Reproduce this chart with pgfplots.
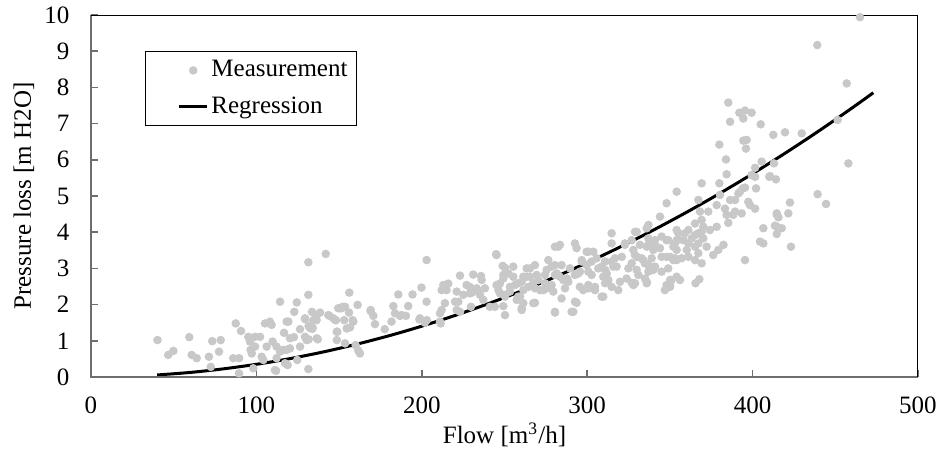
\documentclass[border=0pt]{standalone}
\usepackage{fontspec}
\setmainfont{Liberation Serif}
\usepackage{pgfplots}
\pgfplotsset{compat=1.18}
\definecolor{ptgrey}{RGB}{200,200,200}
\definecolor{axgrey}{RGB}{110,110,110}

\pgfplotstableread{
x y
40.2 1.02
49.8 0.72
46.7 0.61
59.4 1.10
60.9 0.61
63.9 0.52
73.3 0.99
78.4 1.02
71.3 0.56
77.4 0.70
72.4 0.28
87.5 1.48
90.7 1.27
86.0 0.52
89.6 0.52
89.5 0.10
95.1 1.11
99.2 1.11
102.2 1.11
96.1 0.98
99.2 0.84
97.2 0.65
96.5 0.75
103.2 0.56
105.2 1.48
108.2 1.53
109.2 1.44
106.2 0.84
109.8 0.98
112.2 0.84
114.3 2.08
118.3 1.53
116.7 1.22
98.1 0.24
104.2 0.47
112.2 0.52
111.2 0.19
114.3 0.70
118.3 0.75
117.3 0.38
141.9 3.40
131.4 3.17
131.4 2.27
124.4 2.06
122.9 1.80
133.6 1.80
138.5 1.78
144.1 1.69
147.9 1.57
149.5 1.90
136.4 1.57
129.4 1.60
119.3 1.53
126.4 1.32
131.6 1.41
133.8 1.33
131.6 1.04
137.1 1.04
126.4 0.84
120.3 0.79
116.3 0.75
118.9 0.33
131.4 0.22
124.7 0.47
148.6 1.25
148.6 1.02
111.9 0.17
120.3 1.07
122.7 1.10
136.4 1.69
134.0 1.36
143.5 1.71
134.4 1.57
129.4 1.11
136.5 1.07
130.4 1.02
132.4 1.35
129.4 1.62
156.2 2.33
151.5 1.90
153.6 1.94
156.0 1.78
161.2 1.99
169.1 1.82
170.7 1.69
148.1 1.57
153.1 1.57
158.2 1.57
154.6 1.34
156.6 1.37
148.9 1.25
153.6 0.93
160.0 0.88
162.6 0.65
161.6 0.73
171.7 1.46
177.6 1.32
181.7 1.53
182.8 1.96
185.8 2.28
183.8 1.76
186.8 1.69
190.4 1.69
191.8 1.96
194.4 2.28
199.8 2.47
202.9 2.08
198.5 1.59
201.9 1.50
202.9 3.23
187.8 1.71
169.1 1.85
158.6 1.53
150.5 1.90
152.2 1.94
146.5 1.62
213.0 2.54
216.0 2.58
212.0 2.40
215.0 2.40
223.1 2.80
231.1 2.83
235.8 2.79
236.2 2.68
227.1 2.54
229.1 2.49
233.2 2.45
238.2 2.45
235.2 2.27
237.2 2.13
229.1 2.31
225.1 2.27
220.1 2.08
222.1 2.08
221.1 1.85
229.7 1.94
211.0 1.76
211.0 1.53
198.9 1.62
241.2 1.94
244.2 1.94
244.9 3.39
230.2 2.33
234.2 2.36
221.1 2.36
214.0 2.04
212.0 1.85
223.1 1.80
211.4 1.48
203.0 1.57
245.2 2.54
247.2 2.58
249.3 2.72
250.3 3.02
252.3 2.86
255.3 3.05
248.9 3.07
247.3 2.31
250.3 2.27
253.3 2.36
256.3 2.54
258.3 2.59
259.4 2.22
261.4 2.04
257.4 2.13
260.4 1.90
249.3 1.96
250.3 1.71
245.2 3.37
249.3 2.82
255.3 2.77
246.3 2.40
253.3 2.49
250.3 2.22
258.3 2.22
263.4 3.00
268.4 3.09
265.4 2.77
269.5 2.82
264.4 2.49
268.4 2.45
271.5 2.40
275.5 2.45
274.5 2.59
278.5 2.54
275.5 2.96
276.5 3.23
280.5 3.60
280.5 3.09
281.6 2.86
268.4 2.05
280.5 1.80
279.5 2.36
260.4 1.85
280.5 1.78
291.6 1.80
284.5 2.17
293.6 2.05
292.6 3.69
299.7 3.09
296.7 3.23
299.7 3.46
292.6 2.82
295.6 2.49
288.6 2.63
283.5 2.77
284.5 3.09
282.5 3.60
274.5 2.82
265.4 3.00
263.4 2.77
270.4 2.68
273.5 2.40
267.4 2.59
260.4 2.63
261.4 2.40
267.4 2.04
261.4 2.77
293.6 3.56
295.6 2.91
297.6 2.40
278.5 3.05
283.5 3.65
296.7 3.19
289.6 3.00
294.6 2.86
280.5 2.82
285.5 2.68
287.8 2.72
286.6 2.45
292.6 2.08
290.6 1.80
354.1 5.12
348.0 4.80
344.0 4.43
336.0 4.11
329.9 4.01
314.8 3.97
314.8 3.69
326.9 3.78
322.8 3.65
327.9 3.51
337.0 3.83
337.0 3.65
341.0 3.78
345.0 3.88
348.0 3.78
352.1 3.60
344.0 3.56
340.0 3.51
345.0 3.32
348.0 3.32
352.1 3.23
329.9 3.32
333.9 3.23
337.0 3.09
340.0 2.96
329.9 2.96
324.9 3.00
317.8 3.05
314.8 3.19
310.8 3.19
308.8 3.05
311.8 2.86
312.8 2.68
323.8 2.72
330.9 2.82
334.9 2.72
336.0 2.59
328.9 2.59
319.8 2.63
318.8 2.40
348.0 2.54
351.0 2.68
347.0 2.40
308.7 2.22
304.7 2.40
300.7 2.54
303.7 3.46
305.7 3.28
300.7 2.91
309.7 2.22
326.9 2.60
337.0 4.20
328.9 4.01
322.8 3.69
331.9 3.65
336.0 3.60
341.0 3.65
349.0 3.78
354.1 4.06
353.1 3.69
300.7 3.46
302.7 3.19
316.8 3.28
320.9 3.32
328.9 3.37
332.9 3.28
339.0 3.28
353.1 3.28
326.9 3.14
334.9 3.14
341.0 3.05
306.7 3.00
310.8 2.96
315.8 3.05
302.7 2.82
309.7 2.77
337.0 2.91
345.0 2.91
349.0 3.00
336.0 2.63
350.1 2.54
300.7 2.45
304.7 2.49
310.8 2.59
314.8 2.49
327.9 2.54
385.3 7.58
392.0 7.30
395.4 7.36
399.4 7.30
386.4 7.05
394.4 7.14
404.9 6.98
412.5 6.69
394.4 6.53
396.4 6.55
396.0 6.31
379.9 6.42
383.9 6.01
405.5 5.95
401.5 5.78
384.3 5.60
399.4 5.58
410.1 5.53
414.1 5.46
402.1 5.21
369.2 5.35
379.9 5.35
394.0 5.21
391.4 5.07
380.3 5.03
367.2 4.89
386.4 4.89
389.4 4.89
397.4 4.84
398.4 4.75
401.5 4.65
383.3 4.65
378.3 4.75
389.4 4.57
393.4 4.52
373.2 4.57
368.2 4.57
384.3 4.48
388.3 4.48
385.3 4.26
378.3 4.15
369.2 4.34
365.2 4.24
370.2 4.15
374.2 4.06
369.2 4.01
367.2 3.97
365.2 3.92
361.2 4.06
359.1 3.97
355.1 3.97
363.2 3.83
358.1 3.78
354.1 3.78
370.2 3.83
367.2 3.69
361.2 3.69
372.2 3.60
365.2 3.60
360.2 3.51
354.1 3.51
367.2 3.42
361.2 3.32
357.1 3.28
354.1 3.23
365.2 3.23
369.2 3.14
382.4 3.65
379.3 3.51
376.2 3.37
395.4 3.23
406.5 4.11
404.5 3.74
406.5 3.69
414.7 4.48
414.7 4.15
350.1 3.32
350.1 2.68
356.1 2.68
365.5 2.59
367.8 2.70
350.1 2.49
354.1 2.77
401.5 5.53
410.5 5.55
392.4 5.12
395.4 5.23
464.9 9.94
439.1 9.17
456.9 8.11
451.4 7.10
457.9 5.90
419.6 6.76
429.7 6.73
412.9 5.90
439.3 5.05
444.4 4.78
422.6 4.82
414.6 4.52
415.6 4.41
421.6 4.52
413.5 4.18
417.6 4.11
414.6 3.95
423.2 3.60
}\measured

\begin{document}
\begin{tikzpicture}
\begin{axis}[
    scale only axis,
    width=330.8pt, height=144.8pt,
    xmin=0, xmax=500, ymin=0, ymax=10,
    xtick={0,100,...,500}, ytick={0,1,...,10},
    axis line style={draw=none},
    tick align=inside, xtick pos=bottom, ytick pos=left,
    major tick length=2.8pt,
    tick style={draw=axgrey, line width=0.6pt},
    /pgf/number format/assume math mode=true,
    tick label style={font=\fontsize{10}{12}\selectfont},
    xticklabel style={anchor=base, yshift=-14.5pt},
    yticklabel style={anchor=east, inner sep=0pt, xshift=-8.4pt},
    label style={font=\fontsize{10}{12}\selectfont},
    xlabel={Flow [m\textsuperscript{3}/h]},
    xlabel style={at={(axis description cs:0.5,-0.185)}, anchor=base},
    ylabel={Pressure loss [m H2O]},
    ylabel style={at={(axis description cs:-0.0726,0.5)}, anchor=base},
    clip=false,
    reverse legend,
    legend image code/.code={\draw[mark repeat=2,mark phase=2,#1] plot coordinates {(0cm,0cm) (0.2cm,0cm) (0.4cm,0cm)};},
    legend style={at={(axis description cs:0.104,0.883)}, anchor=north west,
        draw=none, fill=none, inner sep=0pt, row sep=4.5pt,
        font=\fontsize{10}{12}\selectfont, nodes={inner sep=1pt}},
    legend cell align=left,
]
% regression curve first, so the dots sit on top of it
\addplot[black, line width=1.2pt, smooth] coordinates {
(40,0.056) (60,0.126) (80,0.225) (100,0.351) (120,0.505) (140,0.688)
(160,0.899) (180,1.137) (200,1.404) (220,1.699) (240,2.022) (260,2.373)
(280,2.752) (300,3.159) (320,3.594) (340,4.058) (360,4.549) (380,5.068)
(400,5.616) (420,6.192) (440,6.795) (460,7.427) (473,7.853)};
\addlegendentry{Regression}
\addplot[only marks, ptgrey, mark=*, mark size=1.5pt, mark options={draw=ptgrey, fill=ptgrey}]
    table[x=x, y=y] {\measured};
\addlegendentry{Measurement}

% frame: grey left/bottom, thin black top/right
\draw[axgrey, line width=0.8pt] (rel axis cs:0,1) -- (rel axis cs:0,0) -- (rel axis cs:1,0);
\draw[black, line width=0.4pt] (rel axis cs:0,1) -- (rel axis cs:1,1) -- (rel axis cs:1,0);
% legend frame
\draw[black, line width=0.4pt] (axis description cs:0.0665,0.898) rectangle (axis description cs:0.3216,0.6961);
\end{axis}
\pgfresetboundingbox
\path (-36.4pt,-29.2pt) rectangle (339.6pt,150.8pt);
\end{tikzpicture}
\end{document}
